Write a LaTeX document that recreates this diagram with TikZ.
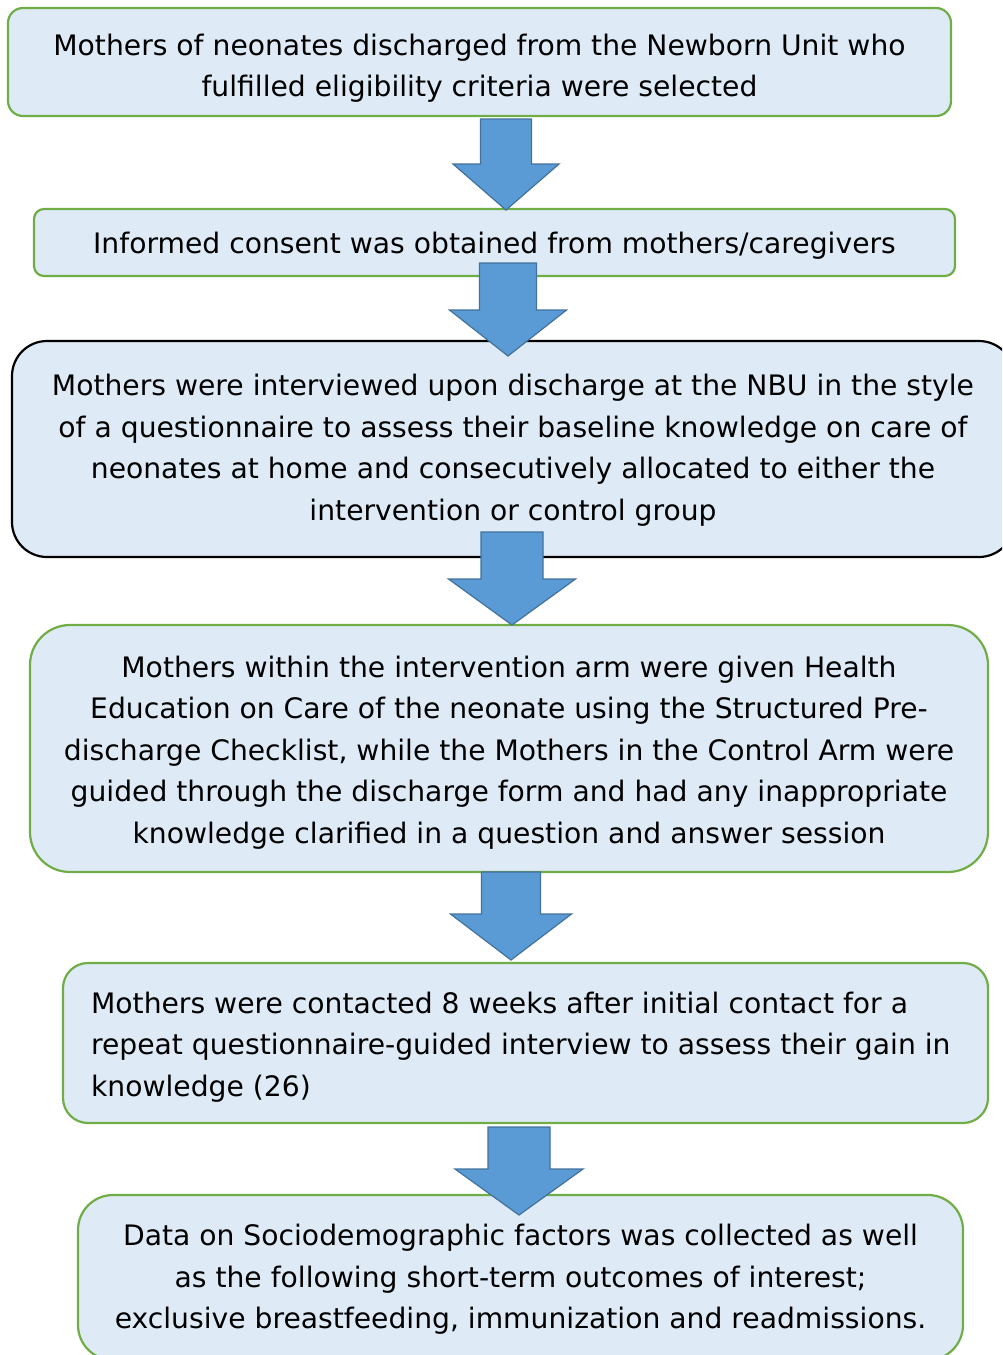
\documentclass[tikz,border=0pt]{standalone}
\usepackage{fontspec}
\setmainfont{DejaVu Sans}
\usepackage{tikz}

\definecolor{boxfill}{HTML}{DEEBF7}
\definecolor{boxgreen}{HTML}{70AD47}
\definecolor{arrowfill}{HTML}{5B9BD5}
\definecolor{arrowedge}{HTML}{41719C}

\tikzset{
  stepbox/.style={draw=boxgreen, fill=boxfill, line width=2.2pt, inner sep=0pt},
  steptext/.style={align=center, inner sep=0pt, font=\fontsize{28.2}{41.5}\selectfont},
  blockarrow/.style={draw=arrowedge, fill=arrowfill, line width=1.2pt, line join=miter}
}

\begin{document}
\begin{tikzpicture}[x=1pt,y=-1pt]
\useasboundingbox (0,0) rectangle (1002,1355);
\clip (0,0) rectangle (1002,1355);

% steps
\node[stepbox, minimum width=943pt, minimum height=108pt, rounded corners=15pt] (select) at (479.5,62) {};
\node[steptext] at ([yshift=-6pt]select.center)
  {Mothers of neonates discharged from the Newborn Unit who\\fulfilled eligibility criteria were selected};
\node[stepbox, minimum width=921pt, minimum height=67pt, rounded corners=10pt] (consent) at (494.5,242.5) {};
\node[steptext] at ([yshift=-3pt]consent.center)
  {Informed consent was obtained from mothers/caregivers};
\node[stepbox, draw=black, minimum width=1002pt, minimum height=216pt, rounded corners=35pt] (interview) at (513,449) {};
\node[steptext] at ([yshift=-1pt]interview.center)
  {Mothers were interviewed upon discharge at the NBU in the style\\of a questionnaire to assess their baseline knowledge on care of\\neonates at home and consecutively allocated to either the\\intervention or control group};
\node[stepbox, minimum width=958pt, minimum height=247pt, rounded corners=40pt] (educate) at (509,748.5) {};
\node[steptext] at ([yshift=-4pt]educate.center)
  {Mothers within the intervention arm were given Health\\Education on Care of the neonate using the Structured Pre-\\discharge Checklist, while the Mothers in the Control Arm were\\guided through the discharge form and had any inappropriate\\knowledge clarified in a question and answer session};
\node[stepbox, minimum width=925pt, minimum height=160pt, rounded corners=25pt] (repeat) at (525.5,1043) {};
\node[steptext, align=left, anchor=west] at ([xshift=29pt,yshift=-4pt]repeat.west)
  {Mothers were contacted 8 weeks after initial contact for a\\repeat questionnaire-guided interview to assess their gain in\\knowledge (26)};
\node[stepbox, minimum width=885pt, minimum height=165pt, rounded corners=35pt] (outcome) at (520.5,1277.5) {};
\node[steptext] at ([yshift=-2pt]outcome.center)
  {Data on Sociodemographic factors was collected as well\\as the following short-term outcomes of interest;\\exclusive breastfeeding, immunization and readmissions.};

% arrows between steps
\foreach \cx/\top/\tip/\sw/\hw in {506/119/210/51/106, 508/263/356/57/117, 512/532/625/62/127, 511/872/960/59/121, 519/1127/1215/62/128}{
  \draw[blockarrow] (\cx-\sw/2,\top) -- (\cx+\sw/2,\top) -- (\cx+\sw/2,\tip-46) -- (\cx+\hw/2,\tip-46)
    -- (\cx,\tip) -- (\cx-\hw/2,\tip-46) -- (\cx-\sw/2,\tip-46) -- cycle;}
\end{tikzpicture}
\end{document}
